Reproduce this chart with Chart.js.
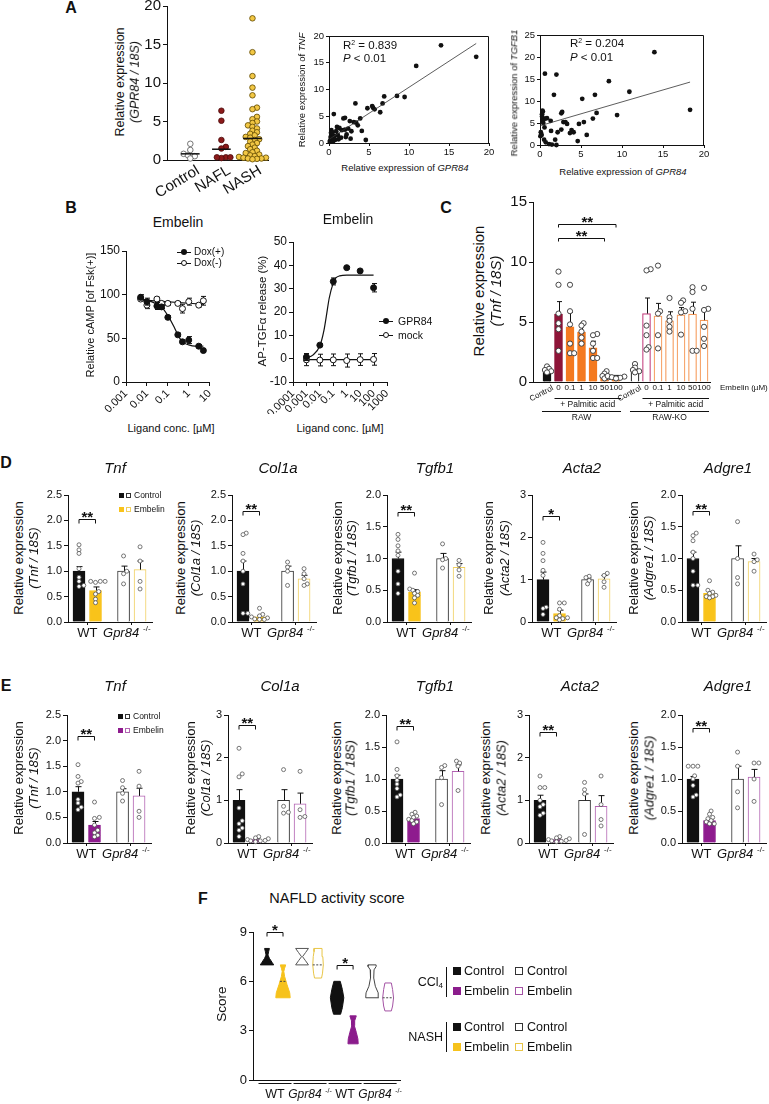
<!DOCTYPE html>
<html><head><meta charset="utf-8">
<script src="https://cdn.jsdelivr.net/npm/chart.js@4.4.1/dist/chart.umd.min.js"></script>
<style>
html,body{margin:0;padding:0;background:#fff;}
#page{position:relative;width:769px;height:1104px;overflow:hidden;background:#fff;color:#111;font-family:"Liberation Sans",Arial,sans-serif;}
.t{position:absolute;white-space:nowrap;line-height:1;transform-origin:50% 50%;}
sup{font-size:0.6em;vertical-align:0.55em;line-height:0;}
sub{font-size:0.65em;vertical-align:-0.25em;line-height:0;}
</style></head>
<body><div id="page"></div>
<script>
// ================= DATA =================
// A – dot plot
const a1Categories = ['Control', 'NAFL', 'NASH'];
const a1YTicks = [0, 5, 10, 15, 20];
const a1ControlVals = [2.1, 1.3, 0.8, 0.6, 0.5, 0.2];
const a1NaflVals = [6.4, 5.1, 2.6, 1.7, 1.5, 0.35, 0.25, 0.35, 0.35];
const a1NashVals = [18.4, 14.0, 10.9, 9.4, 8.4, 6.8, 6.6, 5.6, 5.3, 5.0, 4.8, 4.5, 4.3, 4.1, 3.8, 3.6, 3.4, 3.2, 3.0, 2.9, 2.7, 2.6, 2.4, 2.2, 2.0, 1.8, 1.6, 1.4, 1.2, 1.0, 0.9, 0.7, 0.6, 0.5, 0.4, 0.3, 0.3, 0.2, 0.2, 0.15, 0.1];
const a1Medians = [0.8, 1.4, 2.8];
// A – TNF vs GPR84
const a2Gpr84 = [14.0,18.4,10.9,8.5,9.45,6.9,6.7,6.4,5.5,5.4,4.8,5.7,3.3,0.6,1.8,2.0,3.9,3.4,3.1,2.6,3.6,4.1,4.6,2.7,0.2,0.3,1.0,1.3,1.6,2.0,2.2,1.5,1.2,0.7,0.4,0.15,0.1,0.9,2.4,2.8,2.1,0.3,0.5,0.8,0.25,0.45,1.1,0.6];
const a2Tnf = [18.25,16.1,14.4,8.8,8.6,8.7,7.4,5.75,6.6,6.9,6.5,6.3,7.4,5.4,4.6,4.7,4.6,3.8,3.9,4.1,3.3,2.25,0.56,0.8,1.1,2.4,3.0,2.8,2.4,2.5,1.6,1.0,0.7,1.3,1.6,0.5,0.2,2.2,2.7,2.2,1.1,0.9,0.3,0.6,1.9,2.0,1.5,1.0];
const a2FitX = [0.05, 18.4];
const a2FitY = [0.72, 18.6];
const a2Ticks = [0, 5, 10, 15, 20];
// A – TGFB1 vs GPR84
const a3Gpr84 = [13.95,18.3,8.4,10.9,0.6,2.0,1.7,5.15,6.7,6.9,9.4,6.45,5.7,5.35,4.75,4.6,2.7,2.6,2.85,3.1,3.3,2.6,2.15,3.85,4.1,3.65,1.35,0.25,0.25,0.3,0.65,0.85,1.3,0.35,0.4,0.55,0.1,0.2,0.05,0.5,0.7,1.1,1.45,2.0,1.85,0.35,0.3];
const a3Tgfb1 = [21.1,8.0,14.5,12.1,16.2,16.0,11.4,10.5,11.4,7.3,6.8,6.0,2.3,5.2,4.8,0.9,7.5,7.2,5.2,5.2,4.8,3.5,2.9,3.4,2.9,2.7,3.2,7.0,6.5,6.1,6.0,6.1,5.5,5.5,5.0,4.0,2.9,2.3,2.0,1.2,0.6,0.2,0.1,0.0,1.2,7.6,7.8];
const a3FitX = [0.05, 18.3];
const a3FitY = [4.4, 14.3];
const a3YTicks = [0, 5, 10, 15, 20, 25];

// B – cAMP
const b1XTicks = [0.001, 0.01, 0.1, 1, 10];
const b1YTicks = [0, 50, 100, 150];
const b1Conc = [0.005, 0.01, 0.03, 0.05, 0.1, 0.3, 0.5, 1, 3, 5];
const b1DoxPlus = [97, 92, 87, 86, 74, 54, 46, 48, 41, 36];
const b1DoxPlusErr = [3, 4, 4, 2, 2, 2, 2, 4, 2, 2];
const b1DoxMinus = [95, 88, 95, 90, 90, 90, 84, 92, 88, 93];
const b1DoxMinusErr = [2, 4, 2, 2, 2, 2, 5, 4, 2, 5];
const b1FitConc = [0.005, 0.01, 0.03, 0.05, 0.1, 0.2, 0.3, 0.5, 1, 2, 5];
const b1FitPlus = [95, 94, 89, 86, 76, 63, 54, 46, 42.5, 41, 41];
const b1FitMinusConc = [0.005, 5];
const b1FitMinus = [94, 89];
// B – AP-TGFa
const b2XTicks = [0.0001, 0.001, 0.01, 0.1, 1, 10, 100, 1000];
const b2YTicks = [-10, 0, 10, 20, 30, 40, 50];
const b2Conc = [0.001, 0.01, 0.1, 1, 10, 100];
const b2Gpr84 = [0.7, 5.8, 33.1, 39, 37.6, 30.4];
const b2Gpr84Err = [1.5, 0.5, 1.5, 0.5, 0.5, 1.8];
const b2Mock = [-0.5, -0.6, -0.5, -0.8, -0.4, -0.3];
const b2MockErr = [2.5, 2.5, 2.5, 2.8, 2.5, 2.5];
const b2FitConc = [0.001, 0.003, 0.01, 0.02, 0.03, 0.05, 0.1, 0.15, 0.3, 1, 10, 100];
const b2FitGpr84 = [0.3, 1.5, 5.5, 12, 18, 26, 32.5, 34.5, 35.5, 35.8, 35.8, 35.8];
const b2FitMockConc = [0.001, 100];
const b2FitMock = [-0.4, -0.4];

// C – Tnf in RAW cells
const cLabels = ['Control', '0', '0.1', '1', '10', '50', '100'];
const cYTicks = [0, 5, 10, 15];
const cRawMean = [0.97, 5.65, 4.6, 4.15, 2.85, 0.53, 0.4];
const cRawSem = [0.15, 1.05, 1.2, 0.75, 0.55, 0.3, 0.15];
const cKoMean = [0.97, 5.7, 5.5, 5.1, 5.6, 5.65, 5.15];
const cKoSem = [0.15, 1.3, 1.05, 0.75, 0.6, 1.0, 0.85];
const cRawDots = [[1.3,1.1,1.0,0.9,0.8],[9.2,8.1,5.7,4.9,4.4,2.6],[8.1,5.9,4.8,3.2,2.4,2.4],[4.9,4.7,4.2,3.7,3.2],[4.0,3.9,3.2,2.6,2.0,2.0],[0.9,0.7,0.5,0.4,0.3],[0.5,0.45,0.4,0.35,0.3]];
const cKoDots = [[1.5,1.2,1.0,0.9,0.8],[9.4,9.3,4.7,3.9,2.9,2.7],[9.7,5.9,5.7,3.9,2.8],[7.0,5.4,5.1,4.6,4.2],[6.8,6.6,5.9,5.8,3.95],[7.9,7.5,6.1,2.6,2.6],[7.85,6.1,6.0,4.6,3.6,3.0]];

// D/E – bars: [WT Control, WT Embelin, KO Control, KO Embelin]
const geneNames = ['Tnf', 'Col1a', 'Tgfb1', 'Acta2', 'Adgre1'];
const yTicks25 = [0, 0.5, 1, 1.5, 2, 2.5];
const yTicks20 = [0, 0.5, 1, 1.5, 2];
const yTicks3 = [0, 1, 2, 3];
const dTnfMean = [1.0, 0.62, 1.0, 1.03];
const dTnfSem = [0.09, 0.07, 0.1, 0.17];
const dTnfDots = [[1.52,1.42,1.35,1.05,0.88,0.8,0.72,0.7],[0.8,0.8,0.8,0.78,0.6,0.55,0.45,0.38],[1.3,1.0,0.95,0.75],[1.48,1.2,0.8,0.65]];
const dCol1aMean = [1.0, 0.1, 1.0, 0.85];
const dCol1aSem = [0.2, 0.03, 0.1, 0.07];
const dCol1aDots = [[1.75,1.72,1.35,1.2,1.0,0.75,0.17,0.17],[0.27,0.15,0.12,0.1,0.08,0.06,0.05,0.05],[1.18,1.08,1.0,0.72],[1.05,0.95,0.85,0.75,0.72]];
const dTgfb1Mean = [1.0, 0.47, 1.0, 0.86];
const dTgfb1Sem = [0.1, 0.04, 0.08, 0.06];
const dTgfb1Dots = [[1.38,1.3,1.2,1.12,1.05,0.8,0.6,0.45],[0.77,0.52,0.5,0.48,0.45,0.42,0.38,0.3],[1.23,1.0,0.98,0.85],[0.97,0.9,0.82,0.72]];
const dActa2Mean = [1.0, 0.2, 1.0, 1.02];
const dActa2Sem = [0.18, 0.08, 0.04, 0.08];
const dActa2Dots = [[1.88,1.62,1.45,1.22,1.1,0.35,0.32,0.18],[0.45,0.45,0.3,0.15,0.1,0.08,0.1,0.05],[1.08,1.05,0.98,0.9],[1.15,1.1,0.95,0.82]];
const dAdgre1Mean = [1.0, 0.45, 1.0, 0.95];
const dAdgre1Sem = [0.1, 0.03, 0.2, 0.05];
const dAdgre1Dots = [[1.4,1.36,1.28,1.1,1.0,0.8,0.58,0.58],[0.65,0.5,0.47,0.45,0.42,0.4,0.4,0.38],[1.58,1.0,0.7,0.6],[1.07,0.98,0.95,0.8]];
const dSig = ['**', '**', '**', '*', '**'];

const eTnfMean = [1.0, 0.35, 1.0, 0.92];
const eTnfSem = [0.1, 0.07, 0.06, 0.15];
const eTnfDots = [[1.53,1.3,1.2,1.17,0.85,0.78,0.7,0.65],[0.8,0.5,0.48,0.35,0.25,0.2,0.15,0.12],[1.22,1.08,0.97,0.82],[1.4,1.11,0.62,0.5]];
const eCol1aMean = [1.0, 0.08, 1.0, 0.92];
const eCol1aSem = [0.25, 0.02, 0.25, 0.25];
const eCol1aDots = [[2.22,1.62,1.55,0.82,0.52,0.45,0.35,0.3,0.15],[0.15,0.12,0.1,0.08,0.06,0.05,0.05,0.03],[1.72,0.72,0.7,0.86],[1.68,0.78,0.62,0.6]];
const eTgfb1Mean = [1.0, 0.38, 1.0, 1.12];
const eTgfb1Sem = [0.06, 0.02, 0.13, 0.1];
const eTgfb1Dots = [[1.58,1.15,1.05,0.98,0.92,0.85,0.75,0.72],[0.48,0.45,0.42,0.4,0.37,0.35,0.33,0.3],[1.21,1.18,1.02,0.6],[1.28,1.25,1.2,0.82]];
const eActa2Mean = [1.0, 0.08, 1.0, 0.86];
const eActa2Sem = [0.12, 0.02, 0.15, 0.25];
const eActa2Dots = [[1.57,1.3,1.3,1.0,0.9,0.85,0.7,0.65],[0.15,0.12,0.1,0.08,0.06,0.05,0.04,0.03],[1.42,1.25,1.15,0.2],[1.57,0.9,0.55,0.4]];
const eAdgre1Mean = [1.0, 0.35, 1.0, 1.03];
const eAdgre1Sem = [0.04, 0.02, 0.2, 0.12];
const eAdgre1Dots = [[1.2,1.2,1.2,1.05,1.0,0.9,0.75,0.72],[0.5,0.45,0.4,0.38,0.35,0.33,0.3,0.3],[1.42,1.2,0.8,0.55],[1.25,1.25,1.0,0.65]];
const eSig = ['**', '**', '**', '**', '**'];

// F – NAFLD activity score violins: [score, half-width] pairs
const fGroupLabels = ['WT', 'Gpr84', 'WT', 'Gpr84'];
const fYTicks = [0, 3, 6, 9];
const fViolins = [
  [[7.0,0.42],[7.15,0.32],[7.4,0.15],[7.6,0.06],[7.8,0.1],[8.0,0.15]],
  [[5.0,0.45],[5.3,0.42],[5.8,0.25],[6.3,0.1],[6.6,0.05],[6.8,0.1],[7.0,0.17]],
  [[7.0,0.4],[7.25,0.22],[7.5,0.03],[7.75,0.22],[8.0,0.4]],
  [[6.2,0.22],[6.5,0.28],[7.0,0.33],[7.5,0.3],[7.8,0.25],[8.0,0.25]],
  [[4.0,0.22],[4.4,0.33],[5.0,0.42],[5.5,0.33],[6.0,0.2]],
  [[2.2,0.32],[2.5,0.3],[2.9,0.2],[3.3,0.08],[3.6,0.1],[3.9,0.2]],
  [[5.0,0.4],[5.3,0.38],[5.7,0.2],[6.2,0.1],[6.7,0.12],[6.9,0.25],[7.0,0.25]],
  [[4.2,0.2],[4.5,0.28],[5.0,0.34],[5.5,0.28],[5.9,0.2]]
];
const fMedians = [null, 6.0, null, 7.0, null, null, null, 5.0];
const fSig = ['*', '*'];

// ================= HELPERS =================
const FF = '"Liberation Sans", Arial, Helvetica, sans-serif';
Chart.defaults.font.family = FF;
Chart.defaults.color = '#111';
const page = document.getElementById('page');
const cf = (size, style) => `${style ? style + ' ' : ''}${size}px ${FF}`;
const hf = (size, style) => `${style ? style + ' ' : ''}${size}px/1 ${FF}`;

function T(x, y, html, font, opt) {
  opt = opt || {};
  const d = document.createElement('div');
  d.className = 't';
  d.innerHTML = html;
  d.style.font = font;
  d.style.left = x + 'px'; d.style.top = y + 'px';
  let tx = '-50%';
  if (opt.align === 'left') tx = '0';
  if (opt.align === 'right') tx = '-100%';
  let tr = `translate(${tx},-50%)`;
  if (opt.rot) tr += ` rotate(${opt.rot}deg)`;
  d.style.transform = tr;
  if (opt.color) d.style.color = opt.color;
  page.appendChild(d);
  return d;
}
function R(x, y, w, h, css) {
  const d = document.createElement('div');
  d.style.cssText = `position:absolute;left:${x}px;top:${y}px;width:${w}px;height:${h}px;box-sizing:border-box;${css}`;
  page.appendChild(d);
}
// simple beeswarm layout: horizontal offsets (in x units) so dots do not pile up
function swarm(vals, pxY, pxX, r, overlap) {
  const order = vals.map((v, i) => i).sort((a, b) => vals[a] - vals[b]);
  const placed = [], off = vals.map(() => 0), d = 2 * r * (overlap || 0.92);
  order.forEach(i => {
    const y = vals[i] * pxY;
    for (let k = 0; k < 80; k++) {
      const c = k === 0 ? 0 : (k % 2 ? 1 : -1) * Math.ceil(k / 2) * r * 0.8;
      if (placed.every(p => Math.hypot(p.x - c, p.y - y) >= d)) { off[i] = c / pxX; placed.push({x: c, y}); break; }
    }
  });
  return off;
}
const pts = (xs, ys) => xs.map((x, i) => ({x, y: ys[i]}));

const errPlugin = {
  id: 'errbars',
  beforeDatasetDraw(chart, args) { drawErr(chart, args.index, 'both'); },
  afterDatasetDraw(chart, args) { drawErr(chart, args.index, 'up'); }
};
function drawErr(chart, i, mode) {
  const ds = chart.data.datasets[i];
  const errs = mode === 'both' ? ds.errBoth : ds.errUp;
  if (!errs) return;
  const meta = chart.getDatasetMeta(i);
  const ys = chart.scales[meta.yAxisID];
  const ctx = chart.ctx;
  ctx.save(); ctx.strokeStyle = '#111'; ctx.lineWidth = 1;
  meta.data.forEach((el, j) => {
    const raw = ds.data[j]; const v = typeof raw === 'object' ? raw.y : raw;
    const e = errs[j]; if (!e) return;
    const x = Math.round(el.x) + 0.5, cw = ds.errCap || 3;
    const y0 = ys.getPixelForValue(v), y1 = ys.getPixelForValue(v + e);
    const y2 = mode === 'both' ? ys.getPixelForValue(v - e) : y0;
    ctx.beginPath(); ctx.moveTo(x, y2); ctx.lineTo(x, y1);
    ctx.moveTo(x - cw, y1); ctx.lineTo(x + cw, y1);
    if (mode === 'both') { ctx.moveTo(x - cw, y2); ctx.lineTo(x + cw, y2); }
    ctx.stroke();
  });
  ctx.restore();
}
Chart.register(errPlugin);

function makeChart(box, plot, cfg) {
  const cv = document.createElement('canvas');
  cv.width = box.w; cv.height = box.h;
  cv.style.cssText = `position:absolute;left:${box.x}px;top:${box.y}px;width:${box.w}px;height:${box.h}px;`;
  page.appendChild(cv);
  cfg.scales.x.afterFit = s => { s.height = box.y + box.h - plot.b; };
  cfg.scales.y.afterFit = s => { s.width = plot.l - box.x; };
  return new Chart(cv, {
    type: cfg.type, data: cfg.data,
    options: {
      responsive: false, maintainAspectRatio: false, animation: false, devicePixelRatio: 1, events: [],
      layout: {padding: {left: 0, top: plot.t - box.y, right: box.x + box.w - plot.r, bottom: 0}},
      scales: cfg.scales,
      plugins: {legend: {display: false}, tooltip: {enabled: false}}
    },
    plugins: cfg.plugins || []
  });
}
function yLin(min, max, ticks, size, fmt, len) {
  return {type: 'linear', min, max, offset: false,
    afterBuildTicks: s => { s.ticks = ticks.map(v => ({value: v})); },
    ticks: {font: {size, family: FF}, color: '#111', padding: 2, autoSkip: false, callback: v => fmt(v)},
    grid: {display: true, drawOnChartArea: false, drawTicks: true, tickLength: len || 4, color: '#111', lineWidth: 1, offset: false},
    border: {display: true, color: '#111', width: 1}};
}
function xPlain(min, max, tickVals) {
  const has = !!(tickVals && tickVals.length);
  return {type: 'linear', min, max, offset: false,
    afterBuildTicks: s => { s.ticks = (has ? tickVals : [min]).map(v => ({value: v})); },
    ticks: {display: false},
    grid: {display: has, drawOnChartArea: false, drawTicks: true, tickLength: 3, color: '#111', lineWidth: 1, offset: false},
    border: {display: true, color: '#111', width: 1}};
}
function xLab(min, max, ticks, size) {
  return {type: 'linear', min, max, offset: false,
    afterBuildTicks: s => { s.ticks = ticks.map(v => ({value: v})); },
    ticks: {font: {size, family: FF}, color: '#111', padding: 1, minRotation: 0, maxRotation: 0, autoSkip: false, callback: v => String(v)},
    grid: {drawOnChartArea: false, drawTicks: true, tickLength: 3, color: '#111'},
    border: {display: true, color: '#111', width: 1}};
}
function xLog(min, max, ticks, size) {
  return {type: 'logarithmic', min, max, offset: false,
    afterBuildTicks: s => { s.ticks = ticks.map(v => ({value: v})); },
    ticks: {font: {size, family: FF}, color: '#111', padding: 1, minRotation: 45, maxRotation: 45, autoSkip: false, callback: v => String(v)},
    grid: {drawOnChartArea: false, drawTicks: true, tickLength: 4, color: '#111'},
    border: {display: true, color: '#111', width: 1}};
}
const framePlugin = {id: 'frame', afterDraw(ch) {
  const a = ch.chartArea, ctx = ch.ctx;
  ctx.save(); ctx.strokeStyle = '#111'; ctx.lineWidth = 1;
  const t = Math.round(a.top) + 0.5, r = Math.round(a.right) - 0.5;
  ctx.beginPath(); ctx.moveTo(a.left, t); ctx.lineTo(r, t); ctx.lineTo(r, a.bottom); ctx.stroke();
  ctx.restore();
}};
function bracket(ctx, x0, x1, y, txt, size, tick) {
  y = Math.round(y) + 0.5;
  ctx.beginPath(); ctx.moveTo(x0, y + tick); ctx.lineTo(x0, y); ctx.lineTo(x1, y); ctx.lineTo(x1, y + tick); ctx.stroke();
  ctx.font = cf(size, 'bold'); ctx.textAlign = 'center'; ctx.textBaseline = 'alphabetic';
  ctx.fillText(txt, (x0 + x1) / 2, y - 6 + 0.57 * size);
}
function gprLabel(ctx, cx, cy, size) {
  const f1 = cf(size, 'italic'), f2 = cf(Math.round(size * 0.6));
  ctx.font = f1; const w1 = ctx.measureText('Gpr84').width;
  ctx.font = f2; const w2 = ctx.measureText('-/-').width;
  const gap = size * 0.3, x = cx - (w1 + gap + w2) / 2;
  ctx.textAlign = 'left'; ctx.textBaseline = 'middle';
  ctx.font = f1; ctx.fillText('Gpr84', x, cy);
  ctx.font = f2; ctx.fillText('-/-', x + w1 + gap, cy - size * 0.35);
}

// ================= PANEL A =================
(function () {
  const plot = {l: 167, t: 6, r: 268, b: 160}, box = {x: 130, y: -14, w: 145, h: 214};
  const pxX = 31, pxY = 154 / 20, r = 2.8;
  const groups = [a1ControlVals, a1NaflVals, a1NashVals];
  const fills = ['#ffffff', '#8B1A1A', '#F2C744'], strokes = ['#555', '#4a0a0a', '#5e4800'];
  const ds = [];
  a1Medians.forEach((m, i) => ds.push({type: 'line', data: [{x: i - 0.3, y: m}, {x: i + 0.3, y: m}], borderColor: '#111', borderWidth: 1.5, pointRadius: 0, order: 0, clip: false}));
  groups.forEach((vals, i) => {
    const off = swarm(vals, pxY, pxX, r, 0.62);
    ds.push({type: 'scatter', data: vals.map((v, j) => ({x: i + off[j], y: v})), pointRadius: r, pointBackgroundColor: fills[i], pointBorderColor: strokes[i], pointBorderWidth: 0.8, order: 1, clip: false});
  });
  makeChart(box, plot, {type: 'scatter', data: {datasets: ds},
    scales: {x: xPlain(-0.75, 2.5), y: yLin(0, 20, a1YTicks, 15, v => String(v), 4)},
    plugins: [{id: 'a1x', afterDraw(ch) {
      const ctx = ch.ctx, xs = ch.scales.x, b = ch.chartArea.bottom;
      ctx.save(); ctx.fillStyle = '#111'; ctx.font = cf(15); ctx.textAlign = 'right'; ctx.textBaseline = 'top';
      a1Categories.forEach((c, i) => { ctx.save(); ctx.translate(xs.getPixelForValue(i) + 4, b + 3); ctx.rotate(-31 * Math.PI / 180); ctx.fillText(c, 0, 0); ctx.restore(); });
      ctx.restore();
    }}]});

  makeChart({x: 298, y: 18, w: 202, h: 144}, {l: 329, t: 36, r: 489, b: 143}, {type: 'scatter', data: {datasets: [
    {type: 'line', data: pts(a2FitX, a2FitY), borderColor: '#333', borderWidth: 0.8, pointRadius: 0, order: 0},
    {data: pts(a2Gpr84, a2Tnf), pointRadius: 2.4, pointBackgroundColor: '#111', pointBorderWidth: 0, order: 1, clip: false}]},
    scales: {x: xLab(0, 20, a2Ticks, 9.5), y: yLin(0, 20, a2Ticks, 9.5, v => String(v), 3)},
    plugins: [framePlugin]});

  makeChart({x: 518, y: 18, w: 197, h: 146}, {l: 540, t: 35, r: 704, b: 145}, {type: 'scatter', data: {datasets: [
    {type: 'line', data: pts(a3FitX, a3FitY), borderColor: '#333', borderWidth: 0.8, pointRadius: 0, order: 0},
    {data: pts(a3Gpr84, a3Tgfb1), pointRadius: 2.4, pointBackgroundColor: '#111', pointBorderWidth: 0, order: 1, clip: false}]},
    scales: {x: xLab(0, 20, a2Ticks, 9.5), y: yLin(0, 25, a3YTicks, 9.5, v => String(v), 3)},
    plugins: [framePlugin]});
})();

// ================= PANEL B =================
(function () {
  makeChart({x: 92, y: 232, w: 128, h: 182}, {l: 126, t: 251, r: 213, b: 382}, {type: 'scatter', data: {datasets: [
    {data: pts(b1Conc, b1DoxPlus), pointRadius: 3, pointBackgroundColor: '#111', pointBorderColor: '#111', pointBorderWidth: 1, errBoth: b1DoxPlusErr, errCap: 2.5, order: 1, clip: false},
    {data: pts(b1Conc, b1DoxMinus), pointRadius: 3, pointBackgroundColor: '#fff', pointBorderColor: '#111', pointBorderWidth: 1, errBoth: b1DoxMinusErr, errCap: 2.5, order: 2, clip: false},
    {type: 'line', data: pts(b1FitConc, b1FitPlus), borderColor: '#111', borderWidth: 1.2, pointRadius: 0, cubicInterpolationMode: 'monotone', order: 3, clip: false},
    {type: 'line', data: pts(b1FitMinusConc, b1FitMinus), borderColor: '#111', borderWidth: 1.2, pointRadius: 0, order: 4, clip: false}]},
    scales: {x: xLog(0.001, 10, b1XTicks, 11), y: yLin(0, 150, b1YTicks, 12, v => String(v), 4)}});

  makeChart({x: 260, y: 222, w: 142, h: 192}, {l: 293, t: 242, r: 387, b: 382}, {type: 'scatter', data: {datasets: [
    {data: pts(b2Conc, b2Gpr84), pointRadius: 3, pointBackgroundColor: '#111', pointBorderColor: '#111', pointBorderWidth: 1, errBoth: b2Gpr84Err, errCap: 2.5, order: 1, clip: false},
    {data: pts(b2Conc, b2Mock), pointRadius: 3, pointBackgroundColor: '#fff', pointBorderColor: '#111', pointBorderWidth: 1, errBoth: b2MockErr, errCap: 2.5, order: 2, clip: false},
    {type: 'line', data: pts(b2FitConc, b2FitGpr84), borderColor: '#111', borderWidth: 1.2, pointRadius: 0, cubicInterpolationMode: 'monotone', order: 3, clip: false},
    {type: 'line', data: pts(b2FitMockConc, b2FitMock), borderColor: '#111', borderWidth: 1.2, pointRadius: 0, order: 4, clip: false}]},
    scales: {x: xLog(0.0001, 1000, b2XTicks, 11), y: yLin(-10, 50, b2YTicks, 12, v => String(v), 4)}});
})();

// ================= PANEL C =================
(function () {
  const plot = {l: 533, t: 202, r: 710, b: 382}, box = {x: 495, y: 188, w: 274, h: 244};
  const pxX = 11.5, pxY = 180 / 15, r = 2.6, koStart = 7.65;
  const pos = cLabels.map((_, i) => i).concat(cLabels.map((_, i) => koStart + i));
  const means = cRawMean.concat(cKoMean), sems = cRawSem.concat(cKoSem), dots = cRawDots.concat(cKoDots);
  const OR = '#F47A20';
  const fills = ['#111', '#8E1538', OR, OR, OR, OR, OR, '#fff', '#fff', '#fff', '#fff', '#fff', '#fff', '#fff'];
  const strokes = ['#111', '#8E1538', OR, OR, OR, OR, OR, '#222', '#C4417F', '#F59A5A', '#F59A5A', '#F59A5A', '#F59A5A', '#F59A5A'];
  const dd = [];
  dots.forEach((arr, i) => { const off = swarm(arr, pxY, pxX, r, 0.6); arr.forEach((v, j) => dd.push({x: pos[i] + off[j], y: v})); });
  makeChart(box, plot, {type: 'bar', data: {datasets: [
    {type: 'scatter', data: dd, pointRadius: r, pointBackgroundColor: '#fff', pointBorderColor: '#333', pointBorderWidth: 0.9, order: 1, clip: false},
    {type: 'bar', data: means.map((m, i) => ({x: pos[i], y: m})), backgroundColor: fills, borderColor: strokes, borderWidth: 1.2, barThickness: 8, errUp: sems, errCap: 2.5, order: 2}]},
    scales: {x: xPlain(-1.217, 14.17), y: yLin(0, 15, cYTicks, 15, v => String(v), 4)},
    plugins: [{id: 'cx', afterDraw(ch) {
      const ctx = ch.ctx, xs = ch.scales.x, ys = ch.scales.y, b = ch.chartArea.bottom;
      ctx.save(); ctx.fillStyle = '#111'; ctx.strokeStyle = '#111'; ctx.lineWidth = 1;
      [0, koStart].forEach((base, g) => {
        cLabels.forEach((lab, i) => {
          const px = xs.getPixelForValue(base + i);
          ctx.font = cf(8);
          if (i === 0) {
            ctx.save(); ctx.translate(px + 4, b + 2); ctx.rotate(-28 * Math.PI / 180);
            ctx.textAlign = 'right'; ctx.textBaseline = 'top'; ctx.fillText(lab, 0, 0); ctx.restore();
          } else { ctx.textAlign = 'center'; ctx.textBaseline = 'middle'; ctx.fillText(lab, px, b + 6); }
        });
        const x0 = xs.getPixelForValue(base) - 5, x1 = xs.getPixelForValue(base + 1) - 4, x6 = xs.getPixelForValue(base + 6) + 5;
        ctx.beginPath(); ctx.moveTo(x1, b + 16.5); ctx.lineTo(x6, b + 16.5); ctx.moveTo(x0, b + 29.5); ctx.lineTo(x6, b + 29.5); ctx.stroke();
        ctx.font = cf(8.5); ctx.textAlign = 'center'; ctx.textBaseline = 'middle';
        ctx.fillText('+ Palmitic acid', (x1 + x6) / 2, b + 23);
        ctx.fillText(g ? 'RAW-KO' : 'RAW', (x0 + x6) / 2, b + 36);
      });
      ctx.font = cf(8); ctx.textAlign = 'left'; ctx.textBaseline = 'middle';
      ctx.fillText('Embelin (µM)', xs.right + 10, b + 6);
      bracket(ctx, xs.getPixelForValue(1), xs.getPixelForValue(6), ys.getPixelForValue(13.17), '**', 15, 3);
      bracket(ctx, xs.getPixelForValue(1), xs.getPixelForValue(5), ys.getPixelForValue(12.0), '**', 15, 3);
      ctx.restore();
    }}]});
})();

// ================= PANELS D & E =================
const geneBarPos = [0, 1, 2.7, 3.7];
function genePanel(s, top, bot, emb, embLine) {
  const plot = {l: s.ax, r: s.ax + 84, t: top, b: bot};
  const box = {x: s.ax - 36, y: top - 26, w: 84 + 36 + 6, h: (bot - top) + 26 + 24};
  const ymax = s.ticks[s.ticks.length - 1];
  const pxX = 16.5, pxY = (bot - top) / ymax, r = 2;
  const dd = [];
  s.dots.forEach((arr, i) => { const off = swarm(arr, pxY, pxX, r, 0.85); arr.forEach((v, j) => dd.push({x: geneBarPos[i] + off[j], y: v})); });
  makeChart(box, plot, {type: 'bar', data: {datasets: [
    {type: 'scatter', data: dd, pointRadius: r, pointBackgroundColor: '#fff', pointBorderColor: '#555', pointBorderWidth: 0.8, order: 1, clip: false},
    {type: 'bar', data: s.mean.map((m, i) => ({x: geneBarPos[i], y: m})), backgroundColor: ['#111', emb, '#fff', '#fff'], borderColor: ['#111', emb, '#333', embLine], borderWidth: 1, barThickness: 12, errUp: s.sem, errCap: 3, order: 2}]},
    scales: {x: xPlain(-0.667, 4.424, [0.5, 3.2]), y: yLin(0, ymax, s.ticks, 11, v => v.toFixed(s.dec), 4)},
    plugins: [{id: 'gx', afterDraw(ch) {
      const ctx = ch.ctx, xs = ch.scales.x, ys = ch.scales.y, b = ch.chartArea.bottom;
      ctx.save(); ctx.fillStyle = '#111'; ctx.strokeStyle = '#111'; ctx.lineWidth = 1;
      ctx.font = cf(13); ctx.textAlign = 'center'; ctx.textBaseline = 'middle';
      ctx.fillText('WT', xs.getPixelForValue(0.5), b + 11);
      gprLabel(ctx, xs.getPixelForValue(3.2) - 5, b + 11, 13);
      bracket(ctx, xs.getPixelForValue(0), xs.getPixelForValue(1), ys.getPixelForValue(s.sigY), s.sig, 15, 4);
      ctx.restore();
    }}]});
}
const dSpecs = [
  {ax: 68, ticks: yTicks25, dec: 1, mean: dTnfMean, sem: dTnfSem, dots: dTnfDots, sig: dSig[0], sigY: 2.03},
  {ax: 232, ticks: yTicks25, dec: 1, mean: dCol1aMean, sem: dCol1aSem, dots: dCol1aDots, sig: dSig[1], sigY: 2.19},
  {ax: 387, ticks: yTicks20, dec: 1, mean: dTgfb1Mean, sem: dTgfb1Sem, dots: dTgfb1Dots, sig: dSig[2], sigY: 1.73},
  {ax: 532, ticks: yTicks3, dec: 0, mean: dActa2Mean, sem: dActa2Sem, dots: dActa2Dots, sig: dSig[3], sigY: 2.5},
  {ax: 682, ticks: yTicks20, dec: 1, mean: dAdgre1Mean, sem: dAdgre1Sem, dots: dAdgre1Dots, sig: dSig[4], sigY: 1.75}];
const eSpecs = [
  {ax: 67, ticks: yTicks25, dec: 1, mean: eTnfMean, sem: eTnfSem, dots: eTnfDots, sig: eSig[0], sigY: 2.09},
  {ax: 228, ticks: yTicks3, dec: 0, mean: eCol1aMean, sem: eCol1aSem, dots: eCol1aDots, sig: eSig[1], sigY: 2.77},
  {ax: 386, ticks: yTicks20, dec: 1, mean: eTgfb1Mean, sem: eTgfb1Sem, dots: eTgfb1Dots, sig: eSig[2], sigY: 1.83},
  {ax: 529, ticks: yTicks3, dec: 0, mean: eActa2Mean, sem: eActa2Sem, dots: eActa2Dots, sig: eSig[3], sigY: 2.6},
  {ax: 682, ticks: yTicks20, dec: 1, mean: eAdgre1Mean, sem: eAdgre1Sem, dots: eAdgre1Dots, sig: eSig[4], sigY: 1.8}];
dSpecs.forEach(s => genePanel(s, 495, 622, '#F9C31A', '#F0CF5E'));
eSpecs.forEach(s => genePanel(s, 715, 843, '#8E1B8E', '#B262B2'));

// ================= PANEL F =================
(function () {
  const plot = {l: 253, t: 932, r: 400, b: 1080}, box = {x: 222, y: 912, w: 183, h: 192};
  const fPos = [0, 1, 2.19, 3.19, 4.38, 5.38, 6.57, 7.57];
  const cols = ['#111', '#F6C21C', '#555', '#E8C547', '#111', '#8B1C8C', '#444', '#A452A4'];
  const filled = [true, true, false, false, true, true, false, false];
  const hwAt = (shape, y) => { for (let i = 1; i < shape.length; i++) { const [y0, w0] = shape[i - 1], [y1, w1] = shape[i]; if (y >= y0 && y <= y1) return w0 + (w1 - w0) * (y - y0) / (y1 - y0); } return 0; };
  const ds = [];
  fViolins.forEach((shape, k) => {
    const c = fPos[k];
    const outline = shape.map(([y, w]) => ({x: c + w, y})).concat(shape.slice().reverse().map(([y, w]) => ({x: c - w, y})));
    outline.push(outline[0]);
    ds.push({type: 'line', data: outline, borderColor: cols[k], backgroundColor: filled[k] ? cols[k] : 'rgba(255,255,255,0)', fill: filled[k] ? 'shape' : false, borderWidth: 1, pointRadius: 0, tension: 0, order: 2, clip: false});
    if (fMedians[k] !== null) {
      const w = hwAt(shape, fMedians[k]);
      ds.push({type: 'line', data: [{x: c - w, y: fMedians[k]}, {x: c + w, y: fMedians[k]}], borderColor: '#444', borderWidth: 1, borderDash: [2, 1.5], pointRadius: 0, order: 1, clip: false});
    }
  });
  makeChart(box, plot, {type: 'scatter', data: {datasets: ds},
    scales: {x: xPlain(-0.875, 8.3125), y: yLin(0, 9, fYTicks, 13, v => String(v), 4)},
    plugins: [{id: 'fx', afterDraw(ch) {
      const ctx = ch.ctx, xs = ch.scales.x, ys = ch.scales.y, b = ch.chartArea.bottom;
      ctx.save(); ctx.strokeStyle = '#111'; ctx.fillStyle = '#111'; ctx.lineWidth = 1;
      for (let g = 0; g < 4; g++) {
        const x0 = xs.getPixelForValue(fPos[2 * g]) - 8.5, x1 = xs.getPixelForValue(fPos[2 * g + 1]) + 8.5;
        ctx.beginPath(); ctx.moveTo(x0, Math.round(b) + 3.5); ctx.lineTo(x1, Math.round(b) + 3.5); ctx.stroke();
        const cx = (x0 + x1) / 2;
        if (fGroupLabels[g] === 'WT') { ctx.font = cf(12.5); ctx.textAlign = 'center'; ctx.textBaseline = 'middle'; ctx.fillText('WT', cx, b + 15); }
        else gprLabel(ctx, cx, b + 15, 12);
      }
      bracket(ctx, xs.getPixelForValue(fPos[0]), xs.getPixelForValue(fPos[1]), ys.getPixelForValue(9.0), fSig[0], 15, 4);
      bracket(ctx, xs.getPixelForValue(fPos[4]), xs.getPixelForValue(fPos[5]), ys.getPixelForValue(7.0), fSig[1], 15, 4);
      ctx.restore();
    }}]});
})();

// ================= TEXT =================
const B16 = hf(16, 'bold');
T(71, 8, 'A', B16); T(71, 208, 'B', B16); T(446, 208, 'C', B16);
T(6, 463, 'D', B16); T(6, 686, 'E', B16); T(203, 899, 'F', B16);

// A
T(120, 82, 'Relative expression', hf(12.5), {rot: -90});
T(135, 82, '(GPR84 / 18S)', hf(12.5, 'italic'), {rot: -90});
T(302, 90, 'Relative expression of <i>TNF</i>', hf(9.5), {rot: -90});
T(405, 168, 'Relative expression of <i>GPR84</i>', hf(9.5));
T(343, 46, 'R<sup>2</sup> = 0.839', hf(11.5), {align: 'left'});
T(343, 59, '<i>P</i> &lt; 0.01', hf(11.5), {align: 'left'});
T(514, 93, 'Relative expression of <i>TGFB1</i>', hf(9.5), {rot: -90});
T(623, 172, 'Relative expression of <i>GPR84</i>', hf(9.5));
T(570, 44, 'R<sup>2</sup> = 0.204', hf(11.5), {align: 'left'});
T(570, 58, '<i>P</i> &lt; 0.01', hf(11.5), {align: 'left'});

// B
T(178, 222, 'Embelin', hf(14)); T(348, 219, 'Embelin', hf(14));
T(90, 315, 'Relative cAMP [of Fsk(+)]', hf(11), {rot: -90});
T(171, 428, 'Ligand conc. [µM]', hf(11));
T(263, 311, 'AP-TGFα release (%)', hf(11.5), {rot: -90});
T(340, 428, 'Ligand conc. [µM]', hf(11));
function lgLine(x, y, open) {
  R(x, y - 0.5, 14, 1, 'background:#111');
  R(x + 4, y - 3, 6, 6, open ? 'border:1px solid #111;background:#fff;border-radius:50%' : 'background:#111;border-radius:50%');
}
lgLine(177, 252, false); T(194, 252, 'Dox(+)', hf(10), {align: 'left'});
lgLine(177, 263, true); T(194, 263, 'Dox(-)', hf(10), {align: 'left'});
lgLine(379, 321, false); T(398, 321, 'GPR84', hf(10.5), {align: 'left'});
lgLine(379, 335, true); T(398, 335, 'mock', hf(10.5), {align: 'left'});

// C
T(478, 291, 'Relative expression', hf(15), {rot: -90});
T(495, 291, '(Tnf / 18S)', hf(15, 'italic'), {rot: -90});

// D / E titles
const dTitleX = [115, 278, 435, 582, 728], eTitleX = [115, 280, 435, 580, 728];
geneNames.forEach((g, i) => { T(dTitleX[i], 467, g, hf(15, 'italic')); T(eTitleX[i], 685, g, hf(15, 'italic')); });
const dYT = [[18, 33], [180, 195], [337, 351], [488, 504], [633, 648]];
const eYT = [[18, 33], [190, 205], [336, 350], [485, 501], [633, 649]];
geneNames.forEach((g, i) => {
  T(dYT[i][0], 558, 'Relative expression', hf(13), {rot: -90});
  T(dYT[i][1], 558, `(${g} / 18S)`, hf(13, 'italic'), {rot: -90});
  T(eYT[i][0], 778, 'Relative expression', hf(13), {rot: -90});
  T(eYT[i][1], 778, `(${g} / 18S)`, hf(13, 'italic'), {rot: -90});
});
function sqPair(x, y, col, openCol, label) {
  R(x, y - 2.5, 5, 5, `background:${col}`);
  R(x + 7, y - 2.5, 5, 5, `border:1px solid ${openCol};background:#fff`);
  T(x + 15, y, label, hf(8.5), {align: 'left'});
}
sqPair(119, 495, '#111', '#333', 'Control'); sqPair(119, 509, '#F9C31A', '#F0CF5E', 'Embelin');
sqPair(118, 716, '#111', '#333', 'Control'); sqPair(118, 730, '#8E1B8E', '#B262B2', 'Embelin');

// F
T(337, 898, 'NAFLD activity score', hf(14.5));
T(222, 1004, 'Score', hf(13.5), {rot: -90});
function fLeg(y, col, openCol, label) {
  R(453, y - 4, 8, 8, `background:${col}`); T(464, y, label, hf(12.5), {align: 'left'});
  R(515, y - 4, 8, 8, `border:1px solid ${openCol};background:#fff`); T(527, y, label, hf(12.5), {align: 'left'});
}
T(443, 982, 'CCl<sub>4</sub>', hf(12.5), {align: 'right'});
R(446, 967, 1, 30, 'background:#111');
fLeg(971, '#111', '#333', 'Control'); fLeg(991, '#8B1C8C', '#A452A4', 'Embelin');
T(443, 1037, 'NASH', hf(12.5), {align: 'right'});
R(446, 1022, 1, 30, 'background:#111');
fLeg(1027, '#111', '#333', 'Control'); fLeg(1047, '#F6C21C', '#E8C547', 'Embelin');
</script>
</body></html>
